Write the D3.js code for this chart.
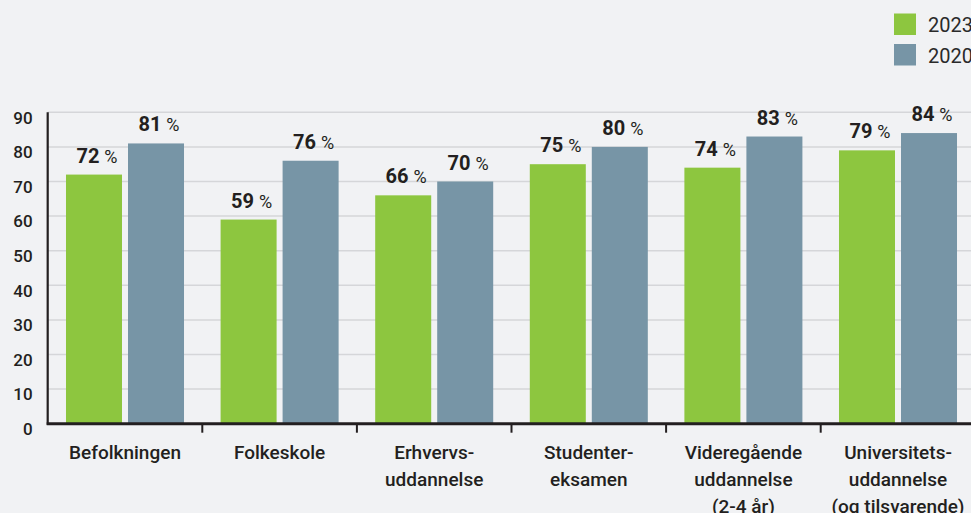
<!DOCTYPE html>
<html><head><meta charset="utf-8">
<script src="https://cdn.jsdelivr.net/npm/d3@7"></script>
<style>
html,body{margin:0;padding:0;background:#f1f2f4;}
svg{display:block;}
text{font-family:Roboto, "Noto Sans", sans-serif;}
</style></head>
<body>
<svg id="chart" width="971" height="513"></svg>
<script>
const categories = [
  ["Befolkningen"],
  ["Folkeskole"],
  ["Erhvervs-", "uddannelse"],
  ["Studenter-", "eksamen"],
  ["Videregående", "uddannelse", "(2-4 år)"],
  ["Universitets-", "uddannelse", "(og tilsvarende)"]
];
const seriesNames = ["2023", "2020"];
const values2023 = [72, 59, 66, 75, 74, 79];
const values2020 = [81, 76, 70, 80, 83, 84];
const yTicks = [0, 10, 20, 30, 40, 50, 60, 70, 80, 90];
const colors = ["#8dc63f", "#7795a6"];

const svg = d3.select("#chart");
const ink = "#231f20";
const leftX = 47.7, bottomY = 423.7, topY = 112.3;
const keys = categories.map((c, i) => "c" + i);

const x0 = d3.scaleBand().domain(keys).range([leftX, leftX + 6 * 154.6]).paddingInner(0).paddingOuter(0);
const x1 = d3.scaleBand().domain(seriesNames).range([0, x0.bandwidth()]).paddingInner(0.0968).paddingOuter(0.295);
const y = d3.scaleLinear().domain([0, 90]).range([bottomY, topY]);
const color = d3.scaleOrdinal().domain(seriesNames).range(colors);

// gridlines
svg.append("g").selectAll("line").data(yTicks.filter(d => d > 0)).join("line")
  .attr("x1", leftX).attr("x2", 971)
  .attr("y1", d => y(d)).attr("y2", d => y(d))
  .attr("stroke", "#d5d6d9").attr("stroke-width", 1.5);

// y axis labels
const yAxis = d3.axisLeft(y).tickValues(yTicks).tickSize(0).tickPadding(15);
const gy = svg.append("g").attr("transform", `translate(${leftX},0)`).call(yAxis);
gy.select(".domain").remove();
gy.selectAll("text").attr("font-size", 17).attr("font-weight", 500).attr("fill", ink)
  .attr("font-family", "Roboto").attr("dy", "0.72em").attr("y", -1.5);

// bars
const data = keys.map((k, i) => ({ key: k, vals: [
  { s: "2023", v: values2023[i] }, { s: "2020", v: values2020[i] }] }));
const groups = svg.append("g").selectAll("g").data(data).join("g")
  .attr("transform", d => `translate(${x0(d.key)},0)`);
groups.selectAll("rect").data(d => d.vals).join("rect")
  .attr("x", d => x1(d.s)).attr("width", x1.bandwidth())
  .attr("y", d => y(d.v)).attr("height", d => y(0) - y(d.v))
  .attr("fill", d => color(d.s));

// value labels
const vl = groups.selectAll("text.val").data(d => d.vals).join("text")
  .attr("class", "val")
  .attr("x", d => x1(d.s) + x1.bandwidth() / 2 + 3)
  .attr("y", d => y(d.v) - 12)
  .attr("text-anchor", "middle").attr("fill", ink);
vl.append("tspan").attr("font-size", 20).attr("font-weight", 700).text(d => d.v);
vl.append("tspan").attr("font-size", 18).attr("font-weight", 400).attr("dx", 5).text("%");

// axes lines
svg.append("line").attr("x1", leftX).attr("x2", leftX).attr("y1", topY).attr("y2", bottomY + 1)
  .attr("stroke", ink).attr("stroke-width", 2.2);
const xAxis = d3.axisBottom(x0).tickSize(0).tickFormat("");
const gx = svg.append("g").attr("transform", `translate(0,${bottomY})`).call(xAxis);
gx.select(".domain").remove();
svg.append("line").attr("x1", leftX - 1).attr("x2", 971).attr("y1", bottomY).attr("y2", bottomY)
  .attr("stroke", ink).attr("stroke-width", 3);
// boundary ticks
svg.append("g").selectAll("line").data(keys.slice(1)).join("line")
  .attr("x1", d => x0(d)).attr("x2", d => x0(d))
  .attr("y1", bottomY).attr("y2", bottomY + 9)
  .attr("stroke", ink).attr("stroke-width", 2);

// category labels
svg.append("g").selectAll("text").data(categories).join("text")
  .attr("x", (d, i) => x0(keys[i]) + x0.bandwidth() / 2)
  .attr("y", 459)
  .attr("text-anchor", "middle").attr("font-size", 19).attr("font-weight", 500).attr("fill", ink)
  .selectAll("tspan").data(d => d).join("tspan")
  .attr("x", function () { return this.parentNode.getAttribute("x"); })
  .attr("dy", (d, i) => i === 0 ? 0 : 27)
  .text(d => d);

// legend
const lg = svg.append("g").selectAll("g").data(seriesNames).join("g")
  .attr("transform", (d, i) => `translate(894,${13.5 + i * 30.5})`);
lg.append("rect").attr("width", 22).attr("height", 21.5).attr("fill", d => color(d));
lg.append("text").attr("x", 34).attr("y", 18.5).attr("font-size", 20).attr("font-weight", 400)
  .attr("fill", "#2a2a2a").text(d => d);
</script>
</body></html>
